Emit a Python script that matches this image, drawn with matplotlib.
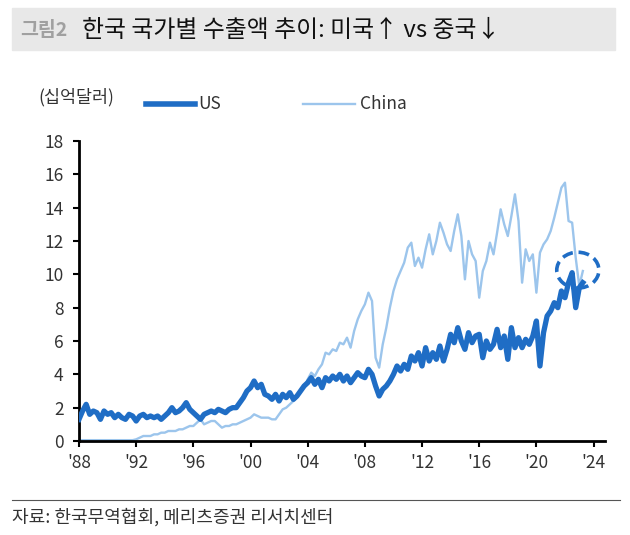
import numpy as np
import matplotlib.pyplot as plt
from matplotlib.patches import Ellipse, Rectangle
from matplotlib.lines import Line2D

plt.rcParams['font.family'] = ['Noto Sans CJK KR', 'DejaVu Sans']

# 분기별 수출액 (십억달러), 1988Q1 ~ 2023Q2
years = 1988 + np.arange(142) * 0.25

us = [1.3, 1.8, 2.2, 1.6, 1.8, 1.7, 1.3, 1.8, 1.6, 1.7, 1.4, 1.6, 1.4, 1.3, 1.6, 1.5,
      1.2, 1.5, 1.6, 1.4, 1.5, 1.4, 1.5, 1.3, 1.5, 1.7, 2.0, 1.7, 1.8, 2.0, 2.3, 1.9,
      1.7, 1.5, 1.3, 1.6, 1.7, 1.8, 1.7, 1.9, 1.8, 1.7, 1.9, 2.0, 2.0, 2.3, 2.6, 3.0,
      3.2, 3.6, 3.2, 3.4, 2.8, 2.7, 2.5, 2.8, 2.4, 2.8, 2.6, 2.9, 2.5, 2.7, 3.0, 3.3,
      3.5, 3.8, 3.4, 3.7, 3.2, 3.8, 3.6, 3.9, 3.7, 4.0, 3.6, 3.9, 3.5, 3.8, 4.1, 3.9,
      3.8, 4.3, 4.0, 3.3, 2.7, 3.1, 3.3, 3.6, 4.0, 4.5, 4.2, 4.6, 4.3, 5.1, 4.8, 5.3,
      4.5, 5.6, 4.8, 5.3, 4.9, 5.7, 4.8, 5.5, 6.4, 5.9, 6.8, 6.0, 5.5, 6.5, 5.9, 6.3,
      6.4, 5.0, 6.0, 5.5, 5.8, 6.7, 5.6, 6.3, 4.9, 6.8, 5.6, 6.2, 5.6, 6.1, 5.8, 6.3,
      7.2, 4.5, 6.5, 7.5, 7.8, 8.3, 8.0, 9.0, 8.6, 9.5, 10.1, 8.0, 9.2, 9.5]

china = [0.05] * 16 + [
    0.1, 0.2, 0.3, 0.3, 0.3, 0.4, 0.4, 0.5, 0.5, 0.6, 0.6, 0.6, 0.7, 0.7, 0.8, 0.9,
    0.9, 1.1, 1.3, 1.0, 1.1, 1.2, 1.2, 1.0, 0.8, 0.9, 0.9, 1.0, 1.0, 1.1, 1.2, 1.3,
    1.4, 1.6, 1.5, 1.4, 1.4, 1.4, 1.3, 1.3, 1.6, 1.9, 2.0, 2.2, 2.4, 2.6, 3.0, 3.2,
    3.7, 4.1, 3.9, 4.3, 4.6, 5.3, 5.2, 5.5, 5.4, 5.9, 5.8, 6.2, 5.6, 6.6, 7.3, 7.8,
    8.2, 8.9, 8.4, 5.0, 4.4, 5.8, 6.8, 8.0, 9.0, 9.7, 10.2, 10.7, 11.6, 11.9, 10.5, 11.0,
    10.4, 11.5, 12.4, 11.2, 12.0, 13.1, 12.5, 11.8, 11.4, 12.6, 13.6, 12.3, 9.7, 12.0, 11.2, 10.8,
    8.6, 10.2, 10.8, 11.9, 11.2, 12.5, 13.9, 13.0, 12.3, 13.5, 14.8, 13.2, 9.5, 11.5, 10.8, 11.2,
    8.9, 11.3, 11.8, 12.1, 12.6, 13.4, 14.3, 15.2, 15.5, 13.2, 13.1, 11.0, 9.3, 10.2]

xticks = [1988, 1992, 1996, 2000, 2004, 2008, 2012, 2016, 2020, 2024]
xlabels = ["'88", "'92", "'96", "'00", "'04", "'08", "'12", "'16", "'20", "'24"]

us_color = '#1f6dc5'
cn_color = '#9cc5ec'
txt = '#333333'

fig = plt.figure(figsize=(6.3, 5.35), dpi=100)

# 제목 배경
fig.patches.append(Rectangle((12 / 630, 1 - 50 / 535), 603 / 630, 42 / 535,
                             transform=fig.transFigure, color='#e8e8e8', zorder=0))
fig.text(20 / 630, 1 - 30 / 535, '그림2', fontsize=14, fontweight='bold', color='#a0a0a0', va='center')
fig.text(82 / 630, 1 - 30 / 535, '한국 국가별 수출액 추이: 미국↑ vs 중국↓', fontsize=17.2,
         color='#111111', va='center')

ax = fig.add_axes([79 / 630, 94 / 535, 526 / 630, 300 / 535])
ax.plot(years, china, color=cn_color, lw=1.7, zorder=2)
ax.plot(years, us, color=us_color, lw=3.8, zorder=3)

ax.add_patch(Ellipse((2022.9, 10.25), 2.95, 2.15, fill=False, ec=us_color, lw=2.6,
                     ls=(0, (3, 1.6)), zorder=4))

ax.set_xlim(1988, 2024.8)
ax.set_ylim(0, 18)
ax.set_yticks(np.arange(0, 19, 2))
ax.set_xticks(xticks)
ax.set_xticklabels(xlabels)
for s in ['top', 'right']:
    ax.spines[s].set_visible(False)
for s in ['left', 'bottom']:
    ax.spines[s].set_linewidth(2)
    ax.spines[s].set_color('black')
ax.tick_params(axis='both', direction='out', length=4, width=1.5, labelsize=12.5, labelcolor=txt)
ax.tick_params(axis='y', pad=7)
ax.tick_params(axis='x', pad=5)

# 단위 및 범례
fig.text(38 / 630, 1 - 97 / 535, '(십억달러)', fontsize=12.5, color=txt, va='center')
fig.add_artist(Line2D([146 / 630, 195 / 630], [1 - 104 / 535] * 2, color=us_color, lw=4,
                      transform=fig.transFigure))
fig.text(198 / 630, 1 - 104 / 535, 'US', fontsize=12.5, color=txt, va='center')
fig.add_artist(Line2D([303 / 630, 355 / 630], [1 - 104 / 535] * 2, color=cn_color, lw=1.7,
                      transform=fig.transFigure))
fig.text(360 / 630, 1 - 104 / 535, 'China', fontsize=12.5, color=txt, va='center')

# 출처
fig.add_artist(Line2D([12 / 630, 620 / 630], [1 - 500 / 535] * 2, color='#555555', lw=0.8,
                      transform=fig.transFigure))
fig.text(12 / 630, 1 - 517 / 535, '자료: 한국무역협회, 메리츠증권 리서치센터', fontsize=13,
         color=txt, va='center')

fig.savefig('out.png', dpi=100, facecolor='white')
